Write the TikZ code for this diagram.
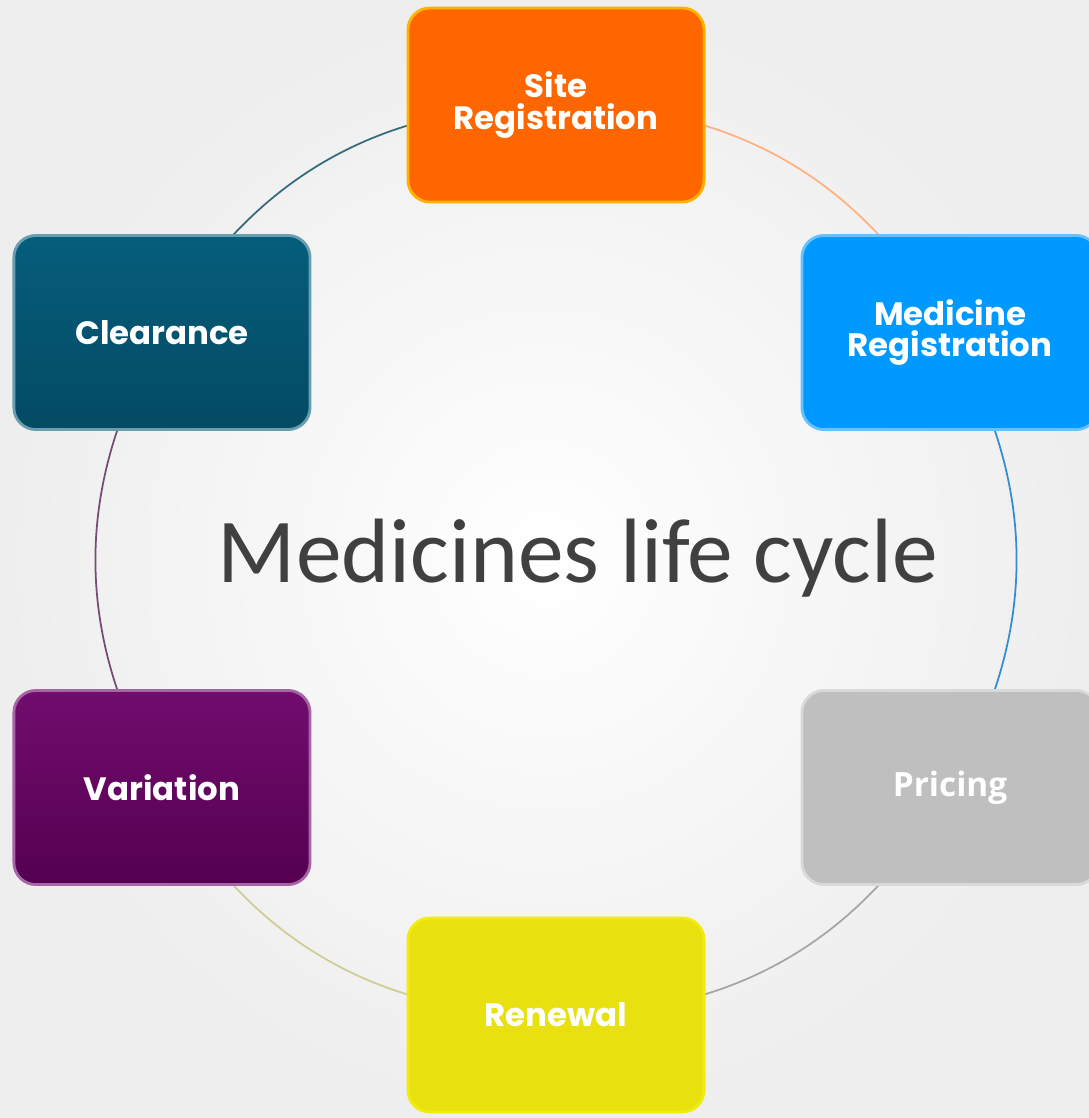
\documentclass[tikz,border=0pt]{standalone}
\usepackage{fontspec}
\setmainfont{Carlito}
\newfontfamily\stagefont{Poppins}
\newfontfamily\pricefont{Open Sans}
\usetikzlibrary{positioning, backgrounds}

\definecolor{bggray}{HTML}{EEEEEE}
\definecolor{titlegray}{HTML}{404040}
\definecolor{siteorange}{HTML}{FF6600}
\definecolor{medblue}{HTML}{0099FF}
\definecolor{pricegray}{HTML}{BFBFBF}
\definecolor{renewyellow}{HTML}{E9E010}
\definecolor{varpurple}{HTML}{6A0066}
\definecolor{clearteal}{HTML}{055D7C}

\tikzset{
  stage/.style={rounded corners=0.22cm, minimum width=2.96cm, minimum height=1.94cm,
    inner sep=0pt, align=center, text=white, line width=0.8pt,
    font=\stagefont\bfseries\fontsize{9.2}{9}\selectfont},
  ring/.style={line width=0.5pt}
}

\begin{document}
\begin{tikzpicture}[x=0.01cm, y=0.01cm]
\useasboundingbox (0,0) rectangle (1089,-1118);
\coordinate (hub) at (556,-560);

% stages round the cycle
\node[stage, fill=siteorange, draw=siteorange!50!yellow] (site) at ([shift={(90:455)}]hub) {Site\\Registration};
\node[stage, fill=medblue, draw=medblue!60!white] (med) at ([shift={(30:455)}]hub) {Medicine\\Registration};
\node[stage, fill=pricegray, draw=pricegray!60!white, font=\pricefont\bfseries\fontsize{9.5}{9}\selectfont] (price) at ([shift={(-30:455)}]hub) {Pricing};
\node[stage, fill=renewyellow, draw=renewyellow!60!yellow] (renew) at ([shift={(-90:455)}]hub) {Renewal};
\node[stage, top color=varpurple!95!white, bottom color=varpurple!80!black, draw=varpurple!60!white] (var) at ([shift={(210:455)}]hub) {Variation};
\node[stage, top color=clearteal, bottom color=clearteal!80!black, draw=clearteal!60!white] (clear) at ([shift={(150:455)}]hub) {Clearance};

\node[font=\fontsize{26}{30}\selectfont, text=titlegray, anchor=base] (title) at (578,-582) {Medicines life cycle};

\begin{scope}[on background layer]
\fill[inner color=white, outer color=bggray] (0,0) rectangle (1089,-1118);
\draw[ring, draw=siteorange!50] (site.center) to[bend left=30] (med.center);
\draw[ring, draw=medblue!60!gray] (med.center) to[bend left=30] (price.center);
\draw[ring, draw=gray!70] (price.center) to[bend left=30] (renew.center);
\draw[ring, draw=renewyellow!45!gray!60] (renew.center) to[bend left=30] (var.center);
\draw[ring, draw=varpurple!40!gray] (var.center) to[bend left=30] (clear.center);
\draw[ring, draw=clearteal!60!gray] (clear.center) to[bend left=30] (site.center);
\end{scope}
\end{tikzpicture}
\end{document}
